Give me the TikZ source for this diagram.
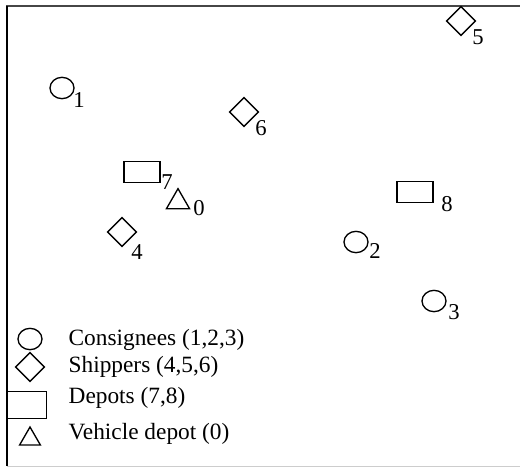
\documentclass[tikz,border=0pt]{standalone}
\usepackage{fontspec}
\setmainfont{Liberation Serif}
\usetikzlibrary{shapes.geometric}

\tikzset{every picture/.style={line width=1pt}}
\tikzset{
  consignee/.style={draw, ellipse, inner sep=0pt, minimum width=18pt, minimum height=16pt},
  shipper/.style={draw, diamond, inner sep=0pt, minimum size=22pt},
  depot/.style={draw, rectangle, inner sep=0pt, minimum width=27pt, minimum height=16pt},
  vdepot/.style={draw, regular polygon, regular polygon sides=3, inner sep=0pt, minimum size=20pt},
  lbl/.style={inner sep=0.75pt, font=\fontsize{17}{19}\selectfont},
  legtext/.style={anchor=west, inner sep=0.75pt, font=\fontsize{17.5}{19}\selectfont}
}

\begin{document}
\begin{tikzpicture}[x=0.75pt,y=0.75pt,yscale=-1,xscale=1]
\useasboundingbox (0,0) rectangle (520,468);
%Frame
\draw [color={rgb,255:red,70;green,70;blue,70}, line width=1.5pt] (6,6) -- (520,6) ;
\draw [line width=1pt] (7,6) -- (7,466) ;
\draw [color={rgb,255:red,205;green,205;blue,205}, line width=0.75pt] (7,466) -- (520,466) ;

%Consignees
\node (c1) [consignee] at (62,88) {};
\node (c2) [consignee] at (356,242) {};
\node (c3) [consignee] at (434,301) {};
%Shippers
\node (s4) [shipper] at (122,232) {};
\node (s5) [shipper] at (461,21) {};
\node (s6) [shipper] at (244,112) {};
%Depots
\node (d7) [depot] at (142,172) {};
\node (d8) [depot] at (415,192) {};
%Vehicle depot
\node (v0) [vdepot] at (178,202) {};

% Text Node
\node (t1) [lbl] at (79,100) {1};
\node (t2) [lbl] at (375,251) {2};
\node (t3) [lbl] at (454,312) {3};
\node (t4) [lbl] at (137,252) {4};
\node (t5) [lbl] at (478,37) {5};
\node (t6) [lbl] at (261,128) {6};
\node (t7) [lbl] at (167,182) {7};
\node (t8) [lbl] at (447,204) {8};
\node (t0) [lbl] at (199,208) {0};

%Legend
\node (lc) [consignee] at (30,339) {};
\node (ls) [shipper] at (30,367) {};
\node (ld) [depot, minimum width=29pt, minimum height=20pt] at (27,405) {};
\node (lv) [vdepot, minimum size=18pt] at (30,439) {};
\node (lct) [legtext] at (67,340) {Consignees (1,2,3)};
\node (lst) [legtext] at (67,367) {Shippers (4,5,6)};
\node (ldt) [legtext] at (67,398) {Depots (7,8)};
\node (lvt) [legtext] at (67,434) {Vehicle depot (0)};
\end{tikzpicture}
\end{document}
